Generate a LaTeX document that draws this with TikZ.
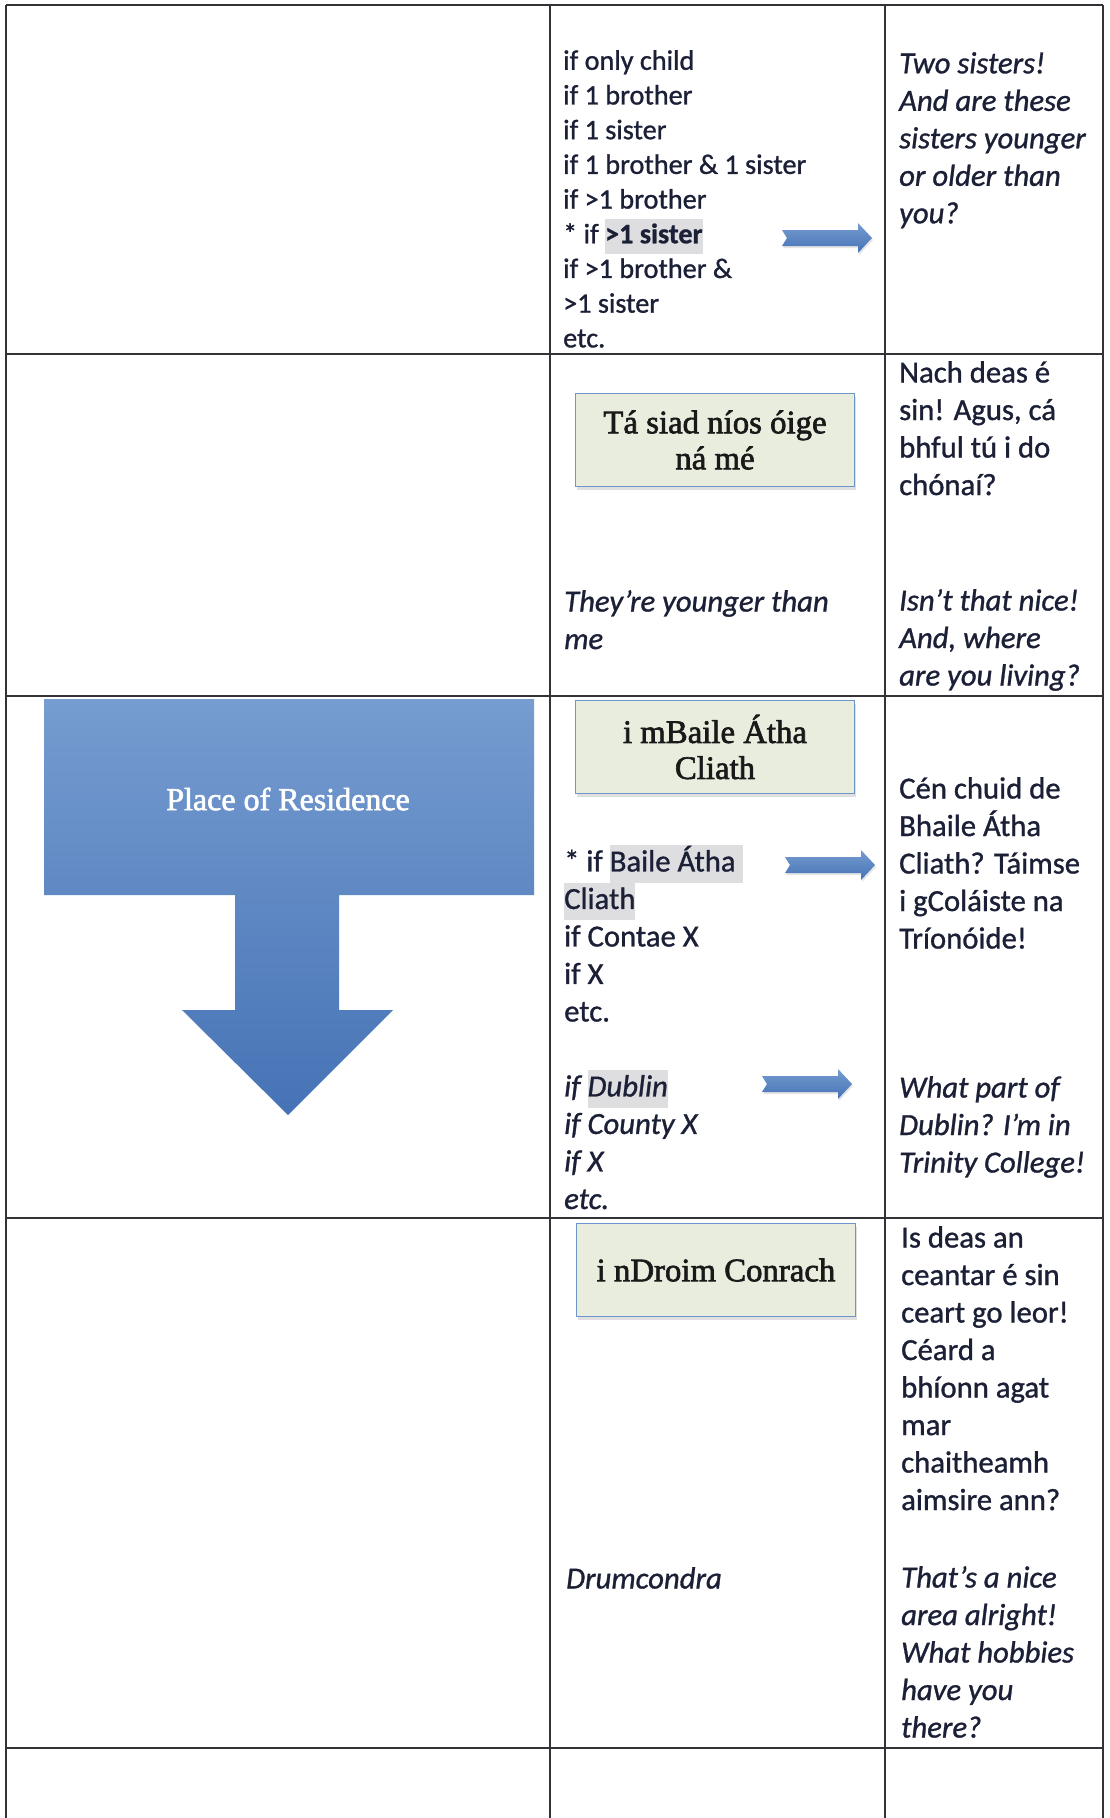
\documentclass[tikz,border=0pt]{standalone}
\usepackage{fontspec}
\setmainfont{Carlito}[FakeBold=1.0]
\newfontfamily\boxfont{Liberation Serif}[FakeBold=2.0]
\usetikzlibrary{positioning, shadows}
\definecolor{ink}{RGB}{28,32,55}
\definecolor{rule}{RGB}{50,50,55}
\definecolor{boxfill}{RGB}{233,237,222}
\definecolor{boxline}{RGB}{110,150,205}
\definecolor{arrowtop}{RGB}{118,156,208}
\definecolor{arrowbot}{RGB}{70,115,182}
\definecolor{hlgray}{RGB}{222,222,225}
\newcommand{\hl}[1]{{\setlength{\fboxsep}{0pt}\colorbox{hlgray}{\strut#1}}}
\tikzset{x=1pt, y=-1pt,
	table line/.style={draw=rule, line width=1.6pt},
	cell/.style={anchor=north west, inner sep=0pt, align=left, text=ink,
		font=\fontsize{30.7}{37.5}\selectfont},
	small cell/.style={cell, font=\fontsize{28.2}{34.7}\selectfont},
	answer/.style={draw=boxline, line width=1.2pt, fill=boxfill,
		minimum width=279pt, minimum height=93pt, align=center, text=black!90,
		font=\boxfont\fontsize{32.8}{36}\selectfont,
		drop shadow={opacity=0.25, shadow xshift=1pt, shadow yshift=-3pt}},
	pics/notch arrow/.style={code={
		\path[top color=arrowtop, bottom color=arrowbot,
			drop shadow={opacity=0.2, shadow xshift=1pt, shadow yshift=-2pt}]
			(0,-8) -- (76,-8) -- (76,-15) -- (90,0) -- (76,15) -- (76,8) -- (0,8) -- (5,0) -- cycle;
	}}}

\begin{document}
\begin{tikzpicture}
    \useasboundingbox[fill=white] (0,0) rectangle (1110,1818);
    % table
    \draw[table line] (6,5) -- (1103,5);
    \foreach \y in {354, 696, 1218, 1748}
        \draw[table line] (6,\y) -- (1103,\y);
    \foreach \x in {6, 550, 885, 1103}
        \draw[table line] (\x,5) -- (\x,1818);

    % place of residence
    \path[top color=arrowtop, bottom color=arrowbot]
        (44,699) -- (534,699) -- (534,895) -- (339,895) -- (339,1010) -- (393,1010)
        -- (288,1115) -- (182,1010) -- (235,1010) -- (235,895) -- (44,895) -- cycle;
    \node[text=white, font=\boxfont\fontsize{32}{36}\selectfont] (place) at (288,799) {Place of Residence};

    % siblings
    \node[small cell] (sib) at (563,50) {if only child\\if 1 brother\\if 1 sister\\if 1 brother \& 1 sister\\if >1 brother\\* if \hl{\textbf{>1 sister}}\\if >1 brother \&\\>1 sister\\etc.};
    \coordinate (a1) at (782,238);
    \pic at (a1) {notch arrow};
    \node[cell, font=\itshape\fontsize{30.7}{37.5}\selectfont] (two) at (899,52) {Two sisters!\\And are these\\sisters younger\\or older than\\you?};

    % younger
    \node[answer] (oige) at (715,440) {Tá siad níos óige\\ná mé};
    \node[cell, font=\itshape\fontsize{30.7}{37.5}\selectfont] (young) at (564,590) {They're younger than\\me};
    \node[cell] (nach) at (899,361) {Nach deas é\\sin! Agus, cá\\bhful tú i do\\chónaí?};
    \node[cell, font=\itshape\fontsize{30.7}{37.5}\selectfont] (isnt) at (899,589) {Isn't that nice!\\And, where\\are you living?};

    % dublin
    \node[answer] (baile) at (715,747) {i mBaile Átha\\Cliath};
    \node[cell] (ifbaile) at (564,845) {* if \hl{Baile Átha }\\\hl{Cliath}\\if Contae X\\if X\\etc.};
    \coordinate (a2) at (785,865);
    \pic at (a2) {notch arrow};
    \node[cell] (cen) at (899,777) {Cén chuid de\\Bhaile Átha\\Cliath? Táimse\\i gColáiste na\\Tríonóide!};
    \node[cell, font=\itshape\fontsize{30.7}{37.5}\selectfont] (ifdub) at (564,1070) {if \hl{Dublin}\\if County X\\if X\\etc.};
    \coordinate (a3) at (762,1084);
    \pic at (a3) {notch arrow};
    \node[cell, font=\itshape\fontsize{30.7}{37.5}\selectfont] (what) at (899,1076) {What part of\\Dublin? I'm in\\Trinity College!};

    % drumcondra
    \node[answer] (droim) at (716,1270) {i nDroim Conrach};
    \node[cell, font=\itshape\fontsize{30.7}{37.5}\selectfont] (drum) at (566,1567) {Drumcondra};
    \node[cell] (isdeas) at (901,1226) {Is deas an\\ceantar é sin\\ceart go leor!\\Céard a\\bhíonn agat\\mar\\chaitheamh\\aimsire ann?};
    \node[cell, font=\itshape\fontsize{30.7}{37.5}\selectfont] (nice) at (901,1566) {That's a nice\\area alright!\\What hobbies\\have you\\there?};
\end{tikzpicture}
\end{document}
